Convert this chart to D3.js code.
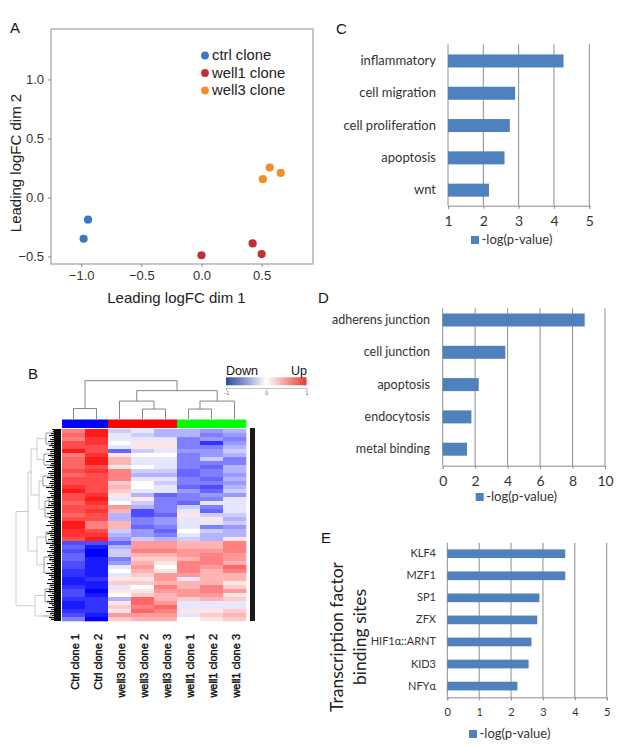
<!DOCTYPE html>
<html><head><meta charset="utf-8">
<script src="https://cdn.jsdelivr.net/npm/d3@7"></script>
<style>
html,body{margin:0;padding:0;background:#fff}
svg{display:block}
text{font-family:"Liberation Sans",Arial,sans-serif}
.cal text,text.cal{font-family:Lato,sans-serif}
</style></head><body><div id="c"></div>
<script>
// Panel A
const ctrlX=[-0.943,-0.98], ctrlY=[-0.188,-0.35];
const well1X=[0,0.425,0.5], well1Y=[-0.49,-0.39,-0.48];
const well3X=[0.51,0.567,0.658], well3Y=[0.155,0.253,0.208];
const mdsLegend=["ctrl clone","well1 clone","well3 clone"];
const mdsColors=["#3b78c3","#bf3137","#ef8f2b"];
const mdsTicksX=[-1,-0.5,0,0.5], mdsTicksY=[-0.5,0,0.5,1];
// Panel B (values in tenths of the -1..1 colour key)
const heatLabels=["Ctrl clone 1","Ctrl clone 2","well3 clone 1","well3 clone 2","well3 clone 3","well1 clone 1","well1 clone 2","well1 clone 3"];
const groupColors=["#0000ff","#0000ff","#ff0000","#ff0000","#ff0000","#00ff00","#00ff00","#00ff00"];
const ctrl1=[5,6,5,7,7,9,5,6,6,6,7,6,7,7,8,9,7,7,6,7,7,6,7,9,9,8,8,7, -7,-6,-7,-6,-6,-7,-7,-8,-8,-9,-9,-8,-7,-7,-8,-9,-9,-8,-7,-5];
const ctrl2=[9,9,8,8,7,7,8,9,9,7,8,7,7,7,7,7,8,9,8,7,8,7,7,5,5,7,8,9, -7,-9,-10,-10,-9,-9,-9,-9,-9,-8,-9,-9,-10,-9,-8,-8,-8,-8,-9,-10];
const w3c1=[-2,-1,-1,0,-1,-6,1,3,3,1,5,5,5,2,3,2,1,-1,0,4,3,-3,-3,3,3,-2,-3,-4, -6,-3,-2,-2,-5,-4,-1,0,-1,1,2,-1,1,0,-3,1,2,1,4,2];
const w3c2=[-1,-2,-1,1,1,-2,0,-1,-1,0,-2,-3,-1,0,0,-1,-3,1,-2,-3,-7,-7,-5,-5,-6,-4,-4,-2, 4,4,5,3,2,3,4,3,2,1,2,0,1,2,6,6,5,6,4,3];
const w3c3=[-3,-3,-1,1,1,-1,0,-1,-1,-1,-2,-3,-1,-2,-1,-1,-6,-5,-5,-5,-5,-6,-4,-4,-5,-6,-5,-3, 4,4,5,3,2,1,0,1,4,4,3,5,4,3,3,4,6,5,4,3];
const w1c1=[-3,-3,-5,-5,-5,-4,-5,-5,-5,-5,-6,-6,-5,-5,-6,-4,-5,-5,-6,-2,-1,1,-1,-1,-1,0,-1,-2, 3,3,4,4,3,5,5,5,4,-1,3,3,4,4,2,-1,-1,1,-1,0];
const w1c2=[-4,-5,-4,-8,-5,-4,-4,-2,-5,-6,-5,-5,-6,-5,-7,-6,-4,-5,-1,-5,-6,-2,1,-1,-5,-2,-3,-3, 3,3,4,5,5,5,4,3,3,3,3,5,5,4,3,-1,-1,1,2,1];
const w1c3=[-3,-4,-5,-4,-3,-2,-3,-5,-5,-3,-3,-4,-3,-4,-3,-2,-4,-1,-1,-1,-1,-2,-3,-2,-4,-3,-3,1, 5,5,5,4,4,3,6,5,3,3,1,2,4,1,2,-1,-1,2,3,2];
const heatCols=[ctrl1,ctrl2,w3c1,w3c2,w3c3,w1c1,w1c2,w1c3];
const keyTicks=[-1,0,1];
// dendrograms: [height, child, child], 0 = leaf
const colTree=[38.5,[10.5,0,0],[28.5,[18,0,[10,0,0]],[18,[10,0,0],0]]];
const rowTree=[45,
 [33,
  [30,
   [24,[15,[8,0,0],[9,[5,0,0],0]],[17,[10,0,[6,0,0]],[8,0,0]]],
   [22,[18,[10,[5,0,0],0],[9,0,[6,0,0]]],[16,[12,[7,0,0],[8,0,0]],[10,[6,0,0],[7,0,0]]]]],
  [24,[15,[9,[6,0,0],0],[8,0,[5,0,0]]],[17,[11,[7,0,0],[6,0,0]],[9,[5,0,0],[6,0,0]]]]],
 [35,
  [26,[16,[11,[6,0,0],[5,0,0]],[9,0,[5,0,0]]],[18,[10,[6,0,0],0],[8,[5,0,0],[6,0,0]]]],
  [30,[20,[12,[7,0,0],[5,0,0]],[10,[6,0,0],[5,0,0]]],
   [19,[11,[6,0,0],0],[12,[8,[5,0,0],[4,0,0]],[7,[5,0,0],[4,0,0]]]]]]];
const combDepth=[9,8,10,12,9,11,13,10,12,9,14,11,10,13,9,12,15,10,11,14,9,12,13,10,14,9,11,12,10,15,9,13,
 11,10,14,9,12,10,13,15,9,11,14,10,12,9,13,11,15,10,9,12,14,11,10,13,9,15,11,12,10,14,9,13,
 11,12,9,14,10,13,11,9,15,12,10,13,9,14,11,10,12,15,9,13,11,10,14,12,9,13,10,15,11,9,12,10];
// Panel C
const cCats=["inflammatory","cell migration","cell proliferation","apoptosis","wnt"];
const cVals=[4.27,2.9,2.75,2.6,2.16];
const cTicks=[1,2,3,4,5];
// Panel D
const dCats=["adherens junction","cell junction","apoptosis","endocytosis","metal binding"];
const dVals=[8.75,3.86,2.22,1.77,1.5];
const dTicks=[0,2,4,6,8,10];
// Panel E
const eCats=["KLF4","MZF1","SP1","ZFX","HIF1α::ARNT","KID3","NFYα"];
const eVals=[3.7,3.7,2.89,2.82,2.64,2.55,2.2];
const eTicks=[0,1,2,3,4,5];
const eTitle=["Transcription factor","binding sites"];
const legendLabel="-log(p-value)";
const panelLetters=["A","B","C","D","E"];

const svg=d3.select("#c").append("svg").attr("width",624).attr("height",747);
const letterPos=[[10,33],[28,379],[336,34],[318,303],[321,543]];
svg.selectAll("text.letter").data(panelLetters).join("text").attr("class","letter")
 .attr("x",(d,i)=>letterPos[i][0]).attr("y",(d,i)=>letterPos[i][1]).attr("font-size",15).attr("fill","#111").text(d=>d);

/* ---------- A ---------- */
{
 const x=d3.scaleLinear([-1.251,0.927],[51,313]), y=d3.scaleLinear([-0.564,1.428],[264,29]);
 const g=svg.append("g");
 g.append("rect").attr("x",51).attr("y",29).attr("width",262).attr("height",235).attr("fill","none").attr("stroke","#a8a8a8").attr("stroke-width",1.3);
 const ax=g.append("g").attr("transform","translate(0,264)").call(d3.axisBottom(x).tickValues(mdsTicksX).tickFormat(d3.format(".1f")).tickSize(3).tickPadding(4));
 const ay=g.append("g").attr("transform","translate(51,0)").call(d3.axisLeft(y).tickValues(mdsTicksY).tickFormat(d3.format(".1f")).tickSize(3).tickPadding(4));
 [ax,ay].forEach(a=>{a.select(".domain").remove();a.selectAll("line").attr("stroke","#888");a.selectAll("text").attr("font-size",13).attr("fill","#333").style("font-family","Liberation Sans");});
 g.append("text").attr("x",176.5).attr("y",303).attr("text-anchor","middle").attr("font-size",15).attr("fill","#222").text("Leading logFC dim 1");
 g.append("text").attr("transform","translate(21,163) rotate(-90)").attr("text-anchor","middle").attr("font-size",15).attr("fill","#222").text("Leading logFC dim 2");
 const sets=[[ctrlX,ctrlY],[well1X,well1Y],[well3X,well3Y]];
 sets.forEach((s,i)=>g.selectAll(null).data(s[0]).join("circle").attr("cx",d=>x(d)).attr("cy",(d,j)=>y(s[1][j])).attr("r",4.1).attr("fill",mdsColors[i]));
 const ly=d3.scalePoint(mdsLegend,[55.5,90.5]);
 g.selectAll(null).data(mdsLegend).join("circle").attr("cx",205).attr("cy",d=>ly(d)).attr("r",3.9).attr("fill",(d,i)=>mdsColors[i]);
 g.selectAll(null).data(mdsLegend).join("text").attr("x",212).attr("y",d=>ly(d)+4.5).attr("font-size",14.8).attr("fill","#222").text(d=>d);
}

/* ---------- B ---------- */
{
 const rows=d3.range(ctrl1.length);
 const cx=d3.scaleBand(heatLabels,[62,246]), ry=d3.scaleBand(rows,[429,621]);
 const color=d3.scaleLinear([-10,0,10],["#0000ff","#ffffff","#ff0000"]);
 const g=svg.append("g");
 const hm=g.append("g").style("filter","blur(0.6px)");
 heatCols.forEach((col,i)=>hm.selectAll(null).data(col).join("rect")
   .attr("x",cx(heatLabels[i])).attr("width",cx.bandwidth()+0.3)
   .attr("y",(d,r)=>ry(r)).attr("height",ry.bandwidth()+0.3).attr("fill",d=>color(d)));
 g.selectAll(null).data(heatLabels).join("rect").attr("x",d=>cx(d)).attr("width",cx.bandwidth()+0.3).attr("y",419.5).attr("height",8.5).attr("fill",(d,i)=>groupColors[i]);
 g.append("rect").attr("x",250).attr("y",428).attr("width",5).attr("height",193).attr("fill","#1a1a1a");
 // column labels
 g.selectAll(null).data(heatLabels).join("text")
  .attr("transform",d=>`translate(${cx(d)+cx.bandwidth()/2+5},634) rotate(-90)`)
  .attr("text-anchor","end").attr("font-size",11).attr("fill","#111").attr("stroke","#111").attr("stroke-width",0.4).text(d=>d);
 // trees
 const segs=(tree,pos,hpos,vertical)=>{
  const root=d3.hierarchy(tree,d=>Array.isArray(d)?d.slice(1):null);
  root.leaves().forEach((l,i)=>{l.p=pos(i);});
  root.eachAfter(n=>{n.h=Array.isArray(n.data)?n.data[0]:0; if(n.children)n.p=d3.mean(n.children,c=>c.p);});
  const out=[];
  root.descendants().forEach(n=>{ if(!n.children)return;
    const ps=n.children.map(c=>c.p);
    const p=d3.path();
    if(vertical){p.moveTo(ps[0],hpos(n.children[0].h));p.lineTo(ps[0],hpos(n.h));p.lineTo(ps[1],hpos(n.h));p.lineTo(ps[1],hpos(n.children[1].h));}
    else{p.moveTo(hpos(n.children[0].h),ps[0]);p.lineTo(hpos(n.h),ps[0]);p.lineTo(hpos(n.h),ps[1]);p.lineTo(hpos(n.children[1].h),ps[1]);}
    out.push({d:p.toString(),h:n.h});
  });
  return out;
 };
 const colH=d3.scaleLinear([0,38.5],[419,380.7]);
 g.selectAll(null).data(segs(colTree,i=>cx(heatLabels[i])+cx.bandwidth()/2,colH,true)).join("path")
  .attr("d",d=>d.d).attr("fill","none").attr("stroke","#777").attr("stroke-width",0.9);
 const rowH=d3.scaleLinear([0,45],[61,16]);
 g.selectAll(null).data(segs(rowTree,i=>ry(i)+ry.bandwidth()/2,rowH,false)).join("path")
  .attr("d",d=>d.d).attr("fill","none").attr("stroke",d=>d.h>20?"#aaa":"#555").attr("stroke-width",0.6);
 // comb of leaves
 const comb=d3.scaleBand(d3.range(combDepth.length),[429,621]);
 g.append("rect").attr("x",54).attr("y",429).attr("width",7).attr("height",192).attr("fill","#000");
 g.selectAll(null).data(combDepth).join("rect").attr("x",d=>61-d).attr("width",d=>d).attr("y",(d,r)=>comb(r)).attr("height",1.1).attr("fill","#111");
 // colour key
 const defs=svg.append("defs");
 const grad=defs.append("linearGradient").attr("id","key");
 [[0,"#2b4ba0"],[0.22,"#7f90cc"],[0.5,"#ffffff"],[0.78,"#f08f88"],[1,"#e8392b"]].forEach(s=>grad.append("stop").attr("offset",s[0]).attr("stop-color",s[1]));
 const kx=d3.scaleLinear([-1,1],[226,306.5]);
 g.append("rect").attr("x",226).attr("y",377.3).attr("width",80.5).attr("height",8).attr("fill","url(#key)");
 const ka=g.append("g").attr("transform","translate(0,388)").call(d3.axisBottom(kx).tickValues(keyTicks).tickFormat(d3.format("d")).tickSize(2).tickPadding(1));
 ka.selectAll("text").attr("font-size",5).attr("fill","#555");
 ka.selectAll("line,path").attr("stroke","#888").attr("stroke-width",0.5);
 g.append("text").attr("x",226).attr("y",375).attr("font-size",12.5).attr("fill","#111").text("Down");
 g.append("text").attr("x",307).attr("y",375).attr("text-anchor","end").attr("font-size",12.5).attr("fill","#111").text("Up");
}

/* ---------- C, D, E bars ---------- */
function bars(cfg){
 const x=d3.scaleLinear([cfg.ticks[0],cfg.ticks[cfg.ticks.length-1]],cfg.xr);
 const y=d3.scaleBand(cfg.cats,cfg.yr);
 const g=svg.append("g").attr("class","cal");
 g.selectAll(null).data(cfg.ticks).join("line").attr("x1",d=>x(d)).attr("x2",d=>x(d)).attr("y1",cfg.top).attr("y2",cfg.bottom).attr("stroke","#8c8c8c");
 const ax=g.append("g").attr("transform",`translate(0,${cfg.bottom})`).call(d3.axisBottom(x).tickValues(cfg.ticks).tickFormat(d3.format("d")).tickSize(3).tickSizeOuter(3).tickPadding(cfg.tickPad));
 ax.selectAll("line,path").attr("stroke","#8c8c8c");
 ax.selectAll("text").attr("font-size",cfg.tickFs).attr("fill","#333").style("font-family","Lato");
 g.selectAll(null).data(cfg.vals).join("rect").attr("x",x(cfg.ticks[0])).attr("y",(d,i)=>y(cfg.cats[i])+y.bandwidth()/2-cfg.bh/2).attr("height",cfg.bh).attr("width",d=>x(d)-x(cfg.ticks[0])).attr("fill","#4f81bd");
 const ay=g.append("g").attr("transform",`translate(${cfg.labelX},0)`).call(d3.axisLeft(y).tickSize(0).tickPadding(0));
 ay.select(".domain").remove();
 ay.selectAll("text").attr("font-size",cfg.fs).attr("fill","#333").style("font-family","Lato");
 g.append("rect").attr("x",cfg.legend[0]).attr("y",cfg.legend[1]).attr("width",8).attr("height",8).attr("fill","#4f81bd");
 g.append("text").attr("x",cfg.legend[0]+10.5).attr("y",cfg.legend[1]+7.5).attr("font-size",cfg.legFs).attr("fill","#333").text(legendLabel);
}
bars({cats:cCats,vals:cVals,ticks:cTicks,xr:[448,589.3],yr:[44.8,206.3],top:44.3,bottom:205.7,bh:13,fs:13,tickFs:14,legFs:13,labelX:436,tickPad:7,legend:[471,236]});
bars({cats:dCats,vals:dVals,ticks:dTicks,xr:[442.7,605],yr:[303.85,465.35],top:308.3,bottom:465.7,bh:13,fs:12.5,tickFs:14,legFs:13,labelX:430,tickPad:7,legend:[475.7,493]});
bars({cats:eCats,vals:eVals,ticks:eTicks,xr:[447.3,606.7],yr:[542.7,697.1],top:542.7,bottom:697.3,bh:8.7,fs:11,tickFs:11,legFs:13,labelX:436,tickPad:8,legend:[469,730]});
svg.append("g").selectAll("text").data(eTitle).join("text").attr("class","cal")
 .attr("transform",(d,i)=>`translate(${i?366:343},637) rotate(-90)`).attr("text-anchor","middle").attr("font-size",17.5).attr("fill","#222").text(d=>d);
</script></body></html>
